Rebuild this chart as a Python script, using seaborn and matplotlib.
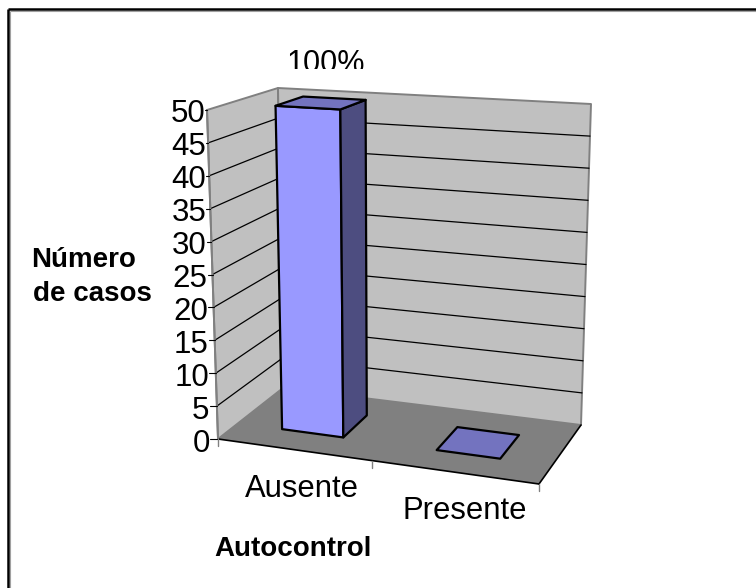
"""
plot.py
-------
Excel style 3D column chart, Autocontrol vs number of cases.
The 3D box is drawn by projecting data coordinates onto the page.
"""

import numpy as np
import pandas as pd
import matplotlib
matplotlib.use("Agg")
import matplotlib.pyplot as plt
import seaborn as sns
from matplotlib.patches import Rectangle

CATEGORIES = ["Ausente", "Presente"]
CASES = [50, 0]
Y_TICKS = [0, 5, 10, 15, 20, 25, 30, 35, 40, 45, 50]
Y_MAX = 50
BAR_LABEL = "100%"

FRONT_COLOR = "#9999FF"
SIDE_COLOR = "#4D4D80"
TOP_COLOR = "#7373BF"
WALL_COLOR = "#C0C0C0"
FLOOR_COLOR = "#808080"

# page pixels of the box corners: (front/back)(left/right)(bottom/top)
FLB = np.array([218, 439])
FRB = np.array([539, 484])
BLB = np.array([283, 388])
BRB = np.array([581, 425])
FLT = np.array([207, 110])
FRT = np.array([548, 130])
BLT = np.array([278, 88])
BRT = np.array([591, 104])


def project(u, v, y):
    """u along categories (0-1), v depth (0 front, 1 back), y value."""
    bottom = (1 - v) * ((1 - u) * FLB + u * FRB) + v * ((1 - u) * BLB + u * BRB)
    top = (1 - v) * ((1 - u) * FLT + u * FRT) + v * ((1 - u) * BLT + u * BRT)
    t = y / Y_MAX
    return (1 - t) * bottom + t * top


def face(ax, pts, color, edge="black", lw=1.6, zorder=3):
    pts = np.array(pts)
    ax.fill(pts[:, 0], pts[:, 1], facecolor=color, edgecolor=edge, linewidth=lw,
            joinstyle="round", zorder=zorder)


def draw_bar(ax, i, value):
    u0 = (i * 0.985 + 0.28) / 2
    u1 = (i + 0.67) / 2
    v0, v1 = 0.31, 0.72
    if value > 0:
        face(ax, [project(u0, v0, 0), project(u1, v0, 0), project(u1, v0, value), project(u0, v0, value)], FRONT_COLOR)
        face(ax, [project(u1, v0, 0), project(u1, v1, 0), project(u1, v1, value), project(u1, v0, value)], SIDE_COLOR)
    face(ax, [project(u0, v0, value), project(u1, v0, value), project(u1, v1, value), project(u0, v1, value)], TOP_COLOR)


def main():
    sns.set_theme(style="white")
    plt.rcParams["font.family"] = ["Liberation Sans", "DejaVu Sans"]

    fig = plt.figure(figsize=(7.56, 5.88), dpi=100)
    ax = fig.add_axes([0, 0, 1, 1])

    # walls and floor
    face(ax, [FLB, BLB, BLT, FLT], WALL_COLOR, edge=FLOOR_COLOR, lw=1.4, zorder=1)
    face(ax, [BLB, BRB, BRT, BLT], WALL_COLOR, edge=FLOOR_COLOR, lw=1.4, zorder=1)
    face(ax, [FLB, FRB, BRB, BLB], FLOOR_COLOR, edge="none", lw=0, zorder=1.5)

    # gridlines along both walls
    rows = []
    for val in Y_TICKS[1:-1]:
        for k, (u, v) in enumerate([(0, 0), (0, 1), (1, 1)]):
            px, py = project(u, v, val)
            rows.append({"tick": val, "order": k, "px": px, "py": py})
    grid = pd.DataFrame(rows)
    sns.lineplot(data=grid, x="px", y="py", units="tick", estimator=None, sort=False,
                 color="black", linewidth=0.9, ax=ax, zorder=2)

    # axis edges and tick marks
    ax.plot(*np.array([FLB, FRB]).T, color="black", lw=1.2, zorder=2.5)
    ax.plot(*np.array([FLB, FLT]).T, color=FLOOR_COLOR, lw=1.4, zorder=2.5)
    ax.plot(*np.array([FRB, BRB]).T, color="black", lw=1.2, zorder=2.5)
    for val in Y_TICKS:
        px, py = project(0, 0, val)
        label_x = px - 8 + 6 * val / Y_MAX
        ax.plot([label_x, px], [py, py], color="black", lw=0.8, zorder=2.5)
        ax.text(label_x, py + 4.5, str(val), ha="right", va="center", fontsize=22.5, color="black")
    for u in [0, 0.48, 1]:
        px, py = project(u, 0, 0)
        ax.plot([px, px], [py, py + 7], color=FLOOR_COLOR, lw=1.0, zorder=2.5)

    for i, value in enumerate(CASES):
        draw_bar(ax, i, value)

    # category labels
    for name, cx, cy in zip(CATEGORIES, [302, 465], [489, 511]):
        ax.text(cx, cy, name, ha="center", va="center", fontsize=22.3, color="black")

    # the data label is cut at its bottom in the source
    clip = Rectangle((0, 0), 756, 69, transform=ax.transData)
    lab = ax.text(326, 63.5, BAR_LABEL, ha="center", va="center", fontsize=22, color="black")
    lab.set_clip_path(clip)
    lab.set_clip_on(True)

    ax.text(84, 260, "Número", ha="center", va="center", fontsize=20, fontweight="bold", color="black")
    ax.text(92, 294, "de casos", ha="center", va="center", fontsize=20, fontweight="bold", color="black")
    ax.text(293, 549, "Autocontrol", ha="center", va="center", fontsize=20, fontweight="bold", color="black")

    # outer chart border, with its thin grey shadow
    ax.plot([9.5, 9.5], [588, 10.5], color="#A0A0A0", lw=0.8, solid_capstyle="butt")
    ax.plot([9.5, 756], [10.5, 10.5], color="#A0A0A0", lw=0.8, solid_capstyle="butt")
    ax.plot([8, 8], [588, 9], color="black", lw=1.8, solid_capstyle="butt")
    ax.plot([8, 756], [9, 9], color="black", lw=1.8, solid_capstyle="butt")

    ax.set_xlim(0, 756)
    ax.set_ylim(588, 0)
    ax.set_axis_off()
    fig.savefig("out.png", dpi=100)
    plt.close(fig)


if __name__ == "__main__":
    main()
